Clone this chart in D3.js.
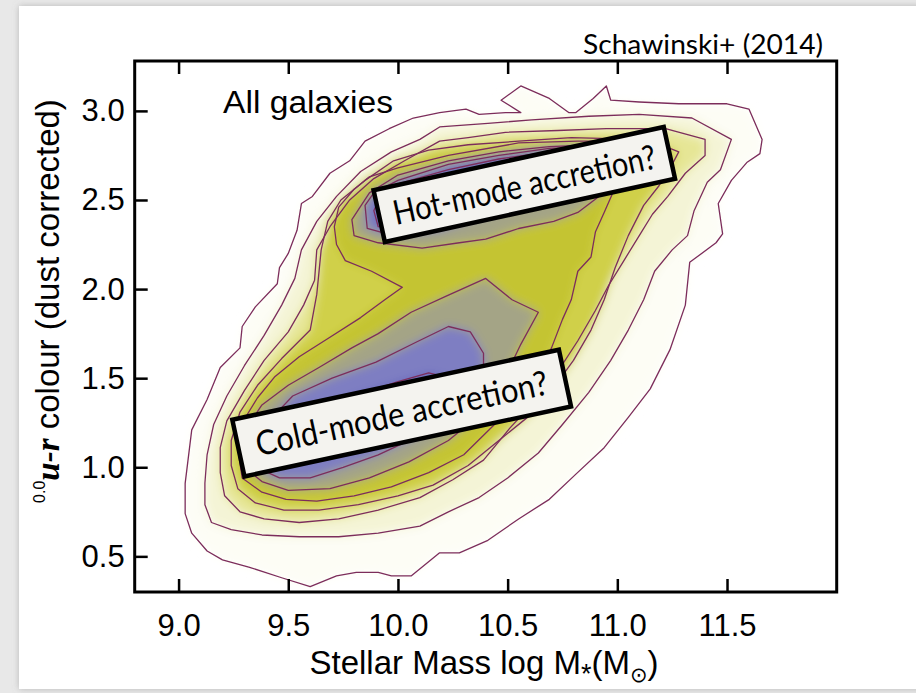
<!DOCTYPE html>
<html><head><meta charset="utf-8">
<script src="https://cdn.jsdelivr.net/npm/d3@7"></script>
<style>
html,body{margin:0;padding:0;background:#e8e8e8;}
svg{display:block;}
</style></head><body>
<script>
// Axis ticks and ranges
const massTicks = [9.0, 9.5, 10.0, 10.5, 11.0, 11.5];
const colourTicks = [0.5, 1.0, 1.5, 2.0, 2.5, 3.0];
const massDomain = [8.8, 12.0];
const colourDomain = [0.3, 3.28];

// Density contours in the colour-mass plane, [log M*, u-r], outermost first
const contour1 = [[9.60,0.33],[9.72,0.39],[9.81,0.41],[9.91,0.41],[9.97,0.39],[10.06,0.39],[10.19,0.52],[10.28,0.52],[10.41,0.59],[10.55,0.71],[10.69,0.82],[10.81,0.96],[10.94,1.11],[11.05,1.28],[11.15,1.44],[11.24,1.66],[11.31,1.91],[11.33,2.15],[11.45,2.26],[11.48,2.31],[11.46,2.48],[11.52,2.61],[11.59,2.71],[11.65,2.76],[11.66,2.84],[11.60,3.01],[11.50,3.04],[11.28,3.04],[11.10,3.05],[10.97,3.06],[10.95,3.14],[10.89,3.07],[10.81,2.99],[10.78,2.99],[10.69,3.07],[10.56,3.14],[10.47,3.06],[10.56,2.99],[10.49,2.99],[10.37,2.98],[10.31,3.01],[10.19,2.99],[10.07,2.96],[9.96,2.90],[9.85,2.83],[9.78,2.72],[9.69,2.65],[9.61,2.52],[9.56,2.48],[9.54,2.33],[9.50,2.20],[9.46,2.12],[9.45,2.03],[9.35,1.90],[9.29,1.79],[9.28,1.67],[9.19,1.56],[9.13,1.38],[9.06,1.21],[9.03,0.91],[9.03,0.74],[9.06,0.63],[9.13,0.53],[9.20,0.48],[9.32,0.44],[9.47,0.38]];
const contour2 = [[9.56,2.22],[9.63,2.38],[9.72,2.52],[9.83,2.66],[9.97,2.77],[10.10,2.84],[10.19,2.91],[10.41,2.93],[10.61,2.95],[10.87,2.97],[11.10,2.98],[11.34,2.96],[11.52,2.84],[11.47,2.67],[11.41,2.60],[11.35,2.44],[11.32,2.30],[11.25,2.22],[11.17,2.10],[11.12,1.94],[11.05,1.77],[10.97,1.60],[10.87,1.42],[10.75,1.24],[10.64,1.08],[10.50,0.94],[10.37,0.83],[10.23,0.75],[10.10,0.67],[9.91,0.63],[9.73,0.61],[9.55,0.61],[9.38,0.62],[9.24,0.65],[9.15,0.69],[9.12,0.79],[9.12,0.91],[9.13,1.07],[9.16,1.24],[9.22,1.40],[9.30,1.57],[9.39,1.74],[9.47,1.91],[9.53,2.06]];
const contour3 = [[9.63,2.22],[9.69,2.35],[9.78,2.50],[9.89,2.62],[10.03,2.72],[10.19,2.83],[10.32,2.85],[10.49,2.88],[10.73,2.89],[10.95,2.90],[11.22,2.90],[11.40,2.84],[11.40,2.75],[11.31,2.65],[11.23,2.52],[11.16,2.42],[11.10,2.30],[11.03,2.16],[10.96,2.02],[10.90,1.88],[10.82,1.71],[10.73,1.54],[10.63,1.38],[10.51,1.22],[10.39,1.04],[10.25,0.93],[10.10,0.83],[9.91,0.76],[9.73,0.71],[9.55,0.69],[9.39,0.71],[9.28,0.75],[9.21,0.84],[9.19,0.97],[9.19,1.11],[9.22,1.26],[9.30,1.43],[9.39,1.60],[9.50,1.76],[9.57,1.91],[9.62,2.05]];
const contour4 = [[9.65,2.22],[9.68,2.38],[9.74,2.50],[9.85,2.61],[9.98,2.72],[10.14,2.78],[10.32,2.81],[10.55,2.83],[10.79,2.85],[11.10,2.84],[11.22,2.80],[11.28,2.77],[11.25,2.70],[11.19,2.58],[11.12,2.47],[11.05,2.30],[10.99,2.12],[10.94,1.94],[10.88,1.77],[10.80,1.60],[10.70,1.43],[10.59,1.28],[10.46,1.15],[10.32,1.01],[10.16,0.90],[10.00,0.84],[9.82,0.79],[9.64,0.76],[9.48,0.76],[9.35,0.80],[9.27,0.88],[9.24,1.01],[9.24,1.15],[9.28,1.31],[9.36,1.46],[9.47,1.61],[9.60,1.77],[9.63,1.97]];
const contour5 = [[9.87,2.63],[10.00,2.68],[10.23,2.75],[10.55,2.82],[10.82,2.83],[11.05,2.83],[11.16,2.77],[11.13,2.71],[11.06,2.64],[10.99,2.57],[10.94,2.43],[10.90,2.32],[10.88,2.18],[10.82,2.10],[10.79,1.94],[10.75,1.83],[10.70,1.67],[10.64,1.51],[10.55,1.36],[10.44,1.24],[10.30,1.07],[10.14,0.97],[9.97,0.89],[9.80,0.84],[9.63,0.81],[9.49,0.82],[9.38,0.86],[9.29,0.94],[9.27,1.10],[9.29,1.25],[9.36,1.39],[9.44,1.51],[9.55,1.62],[9.69,1.73],[9.83,1.84],[9.94,1.94],[10.02,2.01],[9.88,2.10],[9.76,2.16],[9.72,2.25],[9.71,2.35],[9.73,2.46],[9.80,2.56]];
const contour6Red = [[9.79,2.39],[9.80,2.30],[9.91,2.26],[10.11,2.23],[10.28,2.26],[10.40,2.28],[10.55,2.34],[10.71,2.38],[10.82,2.43],[10.97,2.57],[11.10,2.67],[11.20,2.74],[11.14,2.78],[10.91,2.81],[10.69,2.80],[10.46,2.77],[10.23,2.72],[10.00,2.64],[9.87,2.54]];
const contour6Blue = [[9.50,1.46],[9.64,1.56],[9.79,1.67],[9.91,1.75],[10.06,1.87],[10.22,1.96],[10.40,2.06],[10.52,1.94],[10.64,1.87],[10.56,1.69],[10.47,1.46],[10.37,1.29],[10.23,1.15],[10.05,1.03],[9.87,0.94],[9.69,0.88],[9.50,0.87],[9.38,0.92],[9.32,0.98],[9.31,1.10],[9.32,1.24],[9.38,1.35]];
const contour7Red = [[9.85,2.47],[9.86,2.34],[9.98,2.30],[10.19,2.33],[10.46,2.44],[10.73,2.56],[10.94,2.67],[11.05,2.75],[10.91,2.80],[10.69,2.79],[10.46,2.75],[10.23,2.70],[10.00,2.61],[9.89,2.54]];
const contour7Blue = [[9.38,1.07],[9.42,1.27],[9.52,1.40],[9.70,1.50],[9.90,1.59],[10.08,1.70],[10.23,1.79],[10.33,1.76],[10.39,1.64],[10.39,1.49],[10.32,1.35],[10.19,1.24],[10.05,1.15],[9.91,1.07],[9.75,1.00],[9.60,0.94],[9.46,0.94],[9.39,0.98]];
const contour8Red = [[9.89,2.44],[9.91,2.35],[10.03,2.34],[10.23,2.40],[10.50,2.51],[10.75,2.62],[10.91,2.72],[10.89,2.78],[10.69,2.77],[10.46,2.73],[10.23,2.67],[10.00,2.59],[9.92,2.52]];
const contour8Blue = [[9.47,1.17],[9.60,1.30],[9.80,1.40],[10.00,1.48],[10.14,1.53],[10.24,1.50],[10.22,1.40],[10.10,1.29],[9.91,1.20],[9.73,1.10],[9.57,1.05],[9.47,1.07]];

const contourRings = [
  {level: 1, points: contour1},
  {level: 2, points: contour2},
  {level: 3, points: contour3},
  {level: 4, points: contour4},
  {level: 5, points: contour5},
  {level: 6, points: contour6Red},
  {level: 6, points: contour6Blue},
  {level: 7, points: contour7Red},
  {level: 7, points: contour7Blue},
  {level: 8, points: contour8Red},
  {level: 8, points: contour8Blue}
];

// Annotations: label, centre [log M*, u-r], box size, tilt, text run length
const notes = [
  {text: "Hot-mode accretion?", at: [10.576, 2.587], w: 297, h: 53, tilt: -12.3, run: 268},
  {text: "Cold-mode accretion?", at: [10.017, 1.304], w: 334, h: 58, tilt: -12.1, run: 298}
];

// Fill shade for the region inside each contour level
const levelShade = ["#ffffff", "#fdfdf5", "#f4f4d6", "#e6e696", "#d0d048", "#c4c431", "#a4a486", "#7e7ec2", "#6a6abc"];

const W = 916, H = 693;
const frame = {left: 134.7, right: 836.7, top: 61, bottom: 592};

const svg = d3.select("body").append("svg").attr("width", W).attr("height", H);
const defs = svg.append("defs");

const shadow = defs.append("filter").attr("id", "cardShadow").attr("x", "-5%").attr("y", "-5%").attr("width", "110%").attr("height", "110%");
shadow.append("feDropShadow").attr("dx", 0).attr("dy", 0).attr("stdDeviation", 3).attr("flood-color", "#888").attr("flood-opacity", 0.5);

const soften = defs.append("filter").attr("id", "soften").attr("x", "-10%").attr("y", "-10%").attr("width", "120%").attr("height", "120%");
soften.append("feGaussianBlur").attr("stdDeviation", 5);

defs.append("clipPath").attr("id", "plotClip").append("rect")
  .attr("x", frame.left).attr("y", frame.top)
  .attr("width", frame.right - frame.left).attr("height", frame.bottom - frame.top);

// slide card
svg.append("rect").attr("x", 19).attr("y", 6).attr("width", W + 20).attr("height", 683)
  .attr("fill", "#fff").attr("filter", "url(#cardShadow)");

const x = d3.scaleLinear().domain(massDomain).range([frame.left, frame.right]);
const y = d3.scaleLinear().domain(colourDomain).range([frame.bottom, frame.top]);

const ring = d3.line().x(d => x(d[0])).y(d => y(d[1])).curve(d3.curveLinearClosed);

const plot = svg.append("g").attr("clip-path", "url(#plotClip)");

// shaded density
plot.append("g").attr("filter", "url(#soften)")
  .selectAll("path").data(contourRings).join("path")
  .attr("d", d => ring(d.points))
  .attr("fill", d => levelShade[d.level])
  .attr("stroke", "none");

// contour lines
plot.append("g")
  .selectAll("path").data(contourRings).join("path")
  .attr("d", d => ring(d.points))
  .attr("fill", "none")
  .attr("stroke", "#7c2d5b")
  .attr("stroke-width", 1.3)
  .attr("stroke-linejoin", "round");

// axes
const axisFont = "'Liberation Sans', Arial, Helvetica, sans-serif";
const styleAxis = g => {
  g.select(".domain").remove();
  g.selectAll(".tick line").attr("stroke", "#000").attr("stroke-width", 2.5);
  g.selectAll(".tick text").attr("fill", "#000").style("font-family", axisFont).style("font-size", "31px");
};

svg.append("g").attr("transform", `translate(0,${frame.bottom})`)
  .call(d3.axisBottom(x).tickValues(massTicks).tickFormat(d3.format(".1f")).tickSize(-13).tickPadding(22))
  .call(styleAxis);
svg.append("g").attr("transform", `translate(0,${frame.top})`)
  .call(d3.axisTop(x).tickValues(massTicks).tickFormat("").tickSize(-13))
  .call(styleAxis);
svg.append("g").attr("transform", `translate(${frame.left},0)`)
  .call(d3.axisLeft(y).tickValues(colourTicks).tickFormat(d3.format(".1f")).tickSize(-13).tickPadding(10))
  .call(styleAxis);

svg.append("rect")
  .attr("x", frame.left).attr("y", frame.top)
  .attr("width", frame.right - frame.left).attr("height", frame.bottom - frame.top)
  .attr("fill", "none").attr("stroke", "#000").attr("stroke-width", 3);

// axis titles
const xt = svg.append("text").attr("x", 484).attr("y", 674)
  .attr("text-anchor", "middle").style("font-family", axisFont).style("font-size", "33px").attr("fill", "#000");
xt.append("tspan").text("Stellar Mass log M");
xt.append("tspan").attr("dy", 9).style("font-size", "27px").text("*");
xt.append("tspan").attr("dy", -9).text("(M");
xt.append("tspan").attr("dy", 8).style("font-size", "21px").style("font-family", "'DejaVu Sans', sans-serif").text("\u2299");
xt.append("tspan").attr("dy", -8).text(")");

const yt = svg.append("text").attr("transform", "translate(59,301) rotate(-90)")
  .attr("text-anchor", "middle").style("font-family", axisFont).style("font-size", "33px").attr("fill", "#000");
yt.append("tspan").attr("dy", -14).style("font-size", "16px").text("0.0");
yt.append("tspan").attr("dy", 14).style("font-family", "'Liberation Serif', 'Times New Roman', serif")
  .style("font-weight", "bold").style("font-style", "italic").text("u-r");
yt.append("tspan").text(" colour (dust corrected)");

svg.append("text").attr("x", 223).attr("y", 113)
  .attr("textLength", 170).attr("lengthAdjust", "spacingAndGlyphs")
  .style("font-family", axisFont).style("font-size", "31px").attr("fill", "#000").text("All galaxies");

svg.append("text").attr("x", 583).attr("y", 54)
  .attr("textLength", 240).attr("lengthAdjust", "spacingAndGlyphs")
  .style("font-family", "Lato, 'Open Sans', sans-serif").style("font-size", "27px").attr("fill", "#000")
  .text("Schawinski+ (2014)");

// annotation boxes
const noteG = svg.selectAll("g.note").data(notes).join("g").attr("class", "note")
  .attr("transform", d => `translate(${x(d.at[0])},${y(d.at[1])}) rotate(${d.tilt})`);
noteG.append("rect")
  .attr("x", d => -d.w / 2).attr("y", d => -d.h / 2)
  .attr("width", d => d.w).attr("height", d => d.h)
  .attr("fill", "#f4f3ef").attr("stroke", "#000").attr("stroke-width", 4.5);
noteG.append("text").attr("x", d => -d.run / 2).attr("dy", "0.36em")
  .attr("textLength", d => d.run).attr("lengthAdjust", "spacingAndGlyphs")
  .style("font-family", "Lato, 'Open Sans', sans-serif").style("font-size", "34px").attr("fill", "#000")
  .text(d => d.text);
</script>
</body></html>
